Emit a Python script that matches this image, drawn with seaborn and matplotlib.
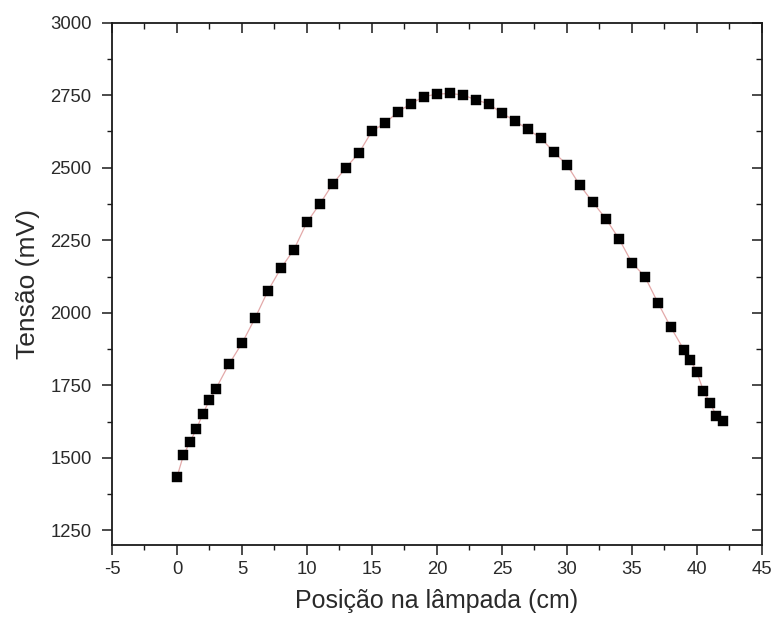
import matplotlib
matplotlib.use("Agg")
import matplotlib.pyplot as plt
from matplotlib.ticker import MultipleLocator
import seaborn as sns
import pandas as pd

# Lamp position (cm) and measured voltage (mV)
posicao = [0, 0.5, 1, 1.5, 2, 2.5, 3, 4, 5, 6, 7, 8, 9, 10, 11, 12, 13, 14,
           15, 16, 17, 18, 19, 20, 21, 22, 23, 24, 25, 26, 27, 28, 29, 30,
           31, 32, 33, 34, 35, 36, 37, 38, 39, 39.5, 40, 40.5, 41, 41.5, 42]
tensao = [1434, 1510, 1555, 1600, 1653, 1699, 1739, 1823, 1895, 1981, 2076,
          2154, 2218, 2312, 2376, 2445, 2500, 2551, 2626, 2654, 2692, 2721,
          2745, 2754, 2756, 2751, 2734, 2720, 2688, 2662, 2632, 2602, 2554,
          2510, 2440, 2381, 2324, 2256, 2173, 2125, 2035, 1950, 1873, 1839,
          1796, 1732, 1690, 1646, 1626]

x_ticks = [-5, 0, 5, 10, 15, 20, 25, 30, 35, 40, 45]
y_ticks = [1250, 1500, 1750, 2000, 2250, 2500, 2750, 3000]

df = pd.DataFrame({"posicao": posicao, "tensao": tensao})

sns.set_style("ticks")
plt.rcParams["font.family"] = ["Liberation Sans", "DejaVu Sans"]
plt.rcParams["axes.unicode_minus"] = False
text_color = "#2a2a2a"
frame_color = "#1a1a1a"

fig = plt.figure(figsize=(7.75, 6.28), dpi=100)
ax = fig.add_axes([0.1445, 0.1322, 0.8385, 0.8317])

sns.lineplot(data=df, x="posicao", y="tensao", ax=ax, color="#e3a9a9",
             linewidth=0.9, zorder=1)
sns.scatterplot(data=df, x="posicao", y="tensao", ax=ax, marker="s",
                color="black", s=48, edgecolor="black", linewidth=0.3,
                zorder=2)

ax.set_xlim(-5, 45)
ax.set_ylim(1200, 3000)
ax.set_xticks(x_ticks)
ax.set_yticks(y_ticks)
ax.xaxis.set_minor_locator(MultipleLocator(2.5))
ax.yaxis.set_minor_locator(MultipleLocator(125))

ax.set_xlabel("Posição na lâmpada (cm)", fontsize=18, color=text_color,
              labelpad=8)
ax.set_ylabel("Tensão (mV)", fontsize=19, color=text_color, labelpad=7)

for side in ["top", "right", "bottom", "left"]:
    ax.spines[side].set_visible(True)
    ax.spines[side].set_linewidth(1.3)
    ax.spines[side].set_color(frame_color)

ax.tick_params(which="major", direction="out", length=7.2, width=1.1,
               labelsize=13.3, labelcolor=text_color, color=frame_color)
ax.tick_params(which="minor", direction="out", length=3.8, width=1.0,
               color=frame_color)
ax.tick_params(axis="y", which="major", pad=7.5)
ax.tick_params(axis="x", which="major", pad=4.5)

# Inward ticks on the top and right frame edges
top = ax.secondary_xaxis("top")
top.set_xticks(x_ticks)
top.xaxis.set_minor_locator(MultipleLocator(2.5))
top.tick_params(which="major", direction="in", length=7.2, width=1.1,
                labeltop=False, color=frame_color)
top.tick_params(which="minor", direction="in", length=4.3, width=1.0,
                color=frame_color)
top.spines["top"].set_visible(False)

right = ax.secondary_yaxis("right")
right.set_yticks(y_ticks)
right.yaxis.set_minor_locator(MultipleLocator(125))
right.tick_params(which="major", direction="in", length=7.2, width=1.1,
                  labelright=False, color=frame_color)
right.tick_params(which="minor", direction="in", length=4.3, width=1.0,
                  color=frame_color)
right.spines["right"].set_visible(False)

fig.savefig("out.png", dpi=100, facecolor="white")
